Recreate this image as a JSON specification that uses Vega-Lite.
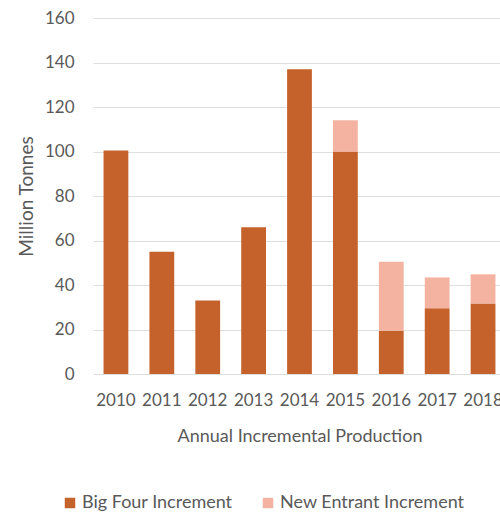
{
  "$schema": "https://vega.github.io/schema/vega-lite/v6.json",
  "autosize": {"type": "none"},
  "width": 407,
  "height": 356,
  "padding": {"left": 93, "top": 18, "right": 0, "bottom": 140},
  "background": "white",
  "config": {
    "view": {"stroke": null},
    "font": "Lato",
    "axis": {"labelFont": "Lato", "titleFont": "Lato", "labelColor": "#595959", "titleColor": "#595959", "titleFontWeight": "normal"},
    "legend": {"labelFont": "Lato", "labelColor": "#595959"}
  },
  "data": {
    "values": [
      {"year": "2010", "series": "Big Four Increment", "value": 100.5, "o": 0},
      {"year": "2011", "series": "Big Four Increment", "value": 55, "o": 0},
      {"year": "2012", "series": "Big Four Increment", "value": 33, "o": 0},
      {"year": "2013", "series": "Big Four Increment", "value": 66, "o": 0},
      {"year": "2014", "series": "Big Four Increment", "value": 137, "o": 0},
      {"year": "2015", "series": "Big Four Increment", "value": 100, "o": 0},
      {"year": "2015", "series": "New Entrant Increment", "value": 14, "o": 1},
      {"year": "2016", "series": "Big Four Increment", "value": 19.4, "o": 0},
      {"year": "2016", "series": "New Entrant Increment", "value": 31, "o": 1},
      {"year": "2017", "series": "Big Four Increment", "value": 29.6, "o": 0},
      {"year": "2017", "series": "New Entrant Increment", "value": 13.8, "o": 1},
      {"year": "2018", "series": "Big Four Increment", "value": 31.7, "o": 0},
      {"year": "2018", "series": "New Entrant Increment", "value": 13.1, "o": 1}
    ]
  },
  "mark": {"type": "bar", "clip": true},
  "encoding": {
    "x": {
      "field": "year", "type": "nominal",
      "scale": {"range": [0, 413], "paddingInner": 0.46, "paddingOuter": 0.23},
      "axis": {"labelAngle": 0, "ticks": false, "domain": false, "labelPadding": 18, "labelFontSize": 17,
               "title": "Annual Incremental Production", "titleFontSize": 18, "titlePadding": 19}
    },
    "y": {
      "field": "value", "type": "quantitative", "stack": "zero",
      "scale": {"domain": [0, 160]},
      "axis": {"values": [0, 20, 40, 60, 80, 100, 120, 140, 160], "ticks": false, "domain": false,
               "gridColor": "#DEDEDE", "gridWidth": 1, "labelPadding": 19, "labelFontSize": 17,
               "title": "Million Tonnes", "titleFontSize": 19, "titlePadding": 8}
    },
    "color": {
      "field": "series", "type": "nominal",
      "scale": {"domain": ["Big Four Increment", "New Entrant Increment"], "range": ["#C5612A", "#F3B3A0"]},
      "legend": {"title": null, "orient": "none", "direction": "horizontal", "legendX": -32, "legendY": 476,
                 "symbolType": "square", "symbolSize": 110, "symbolStrokeWidth": 0, "labelFontSize": 18,
                 "labelLimit": 0, "columnPadding": 26, "labelOffset": 3}
    },
    "order": {"field": "o", "type": "quantitative"}
  }
}
